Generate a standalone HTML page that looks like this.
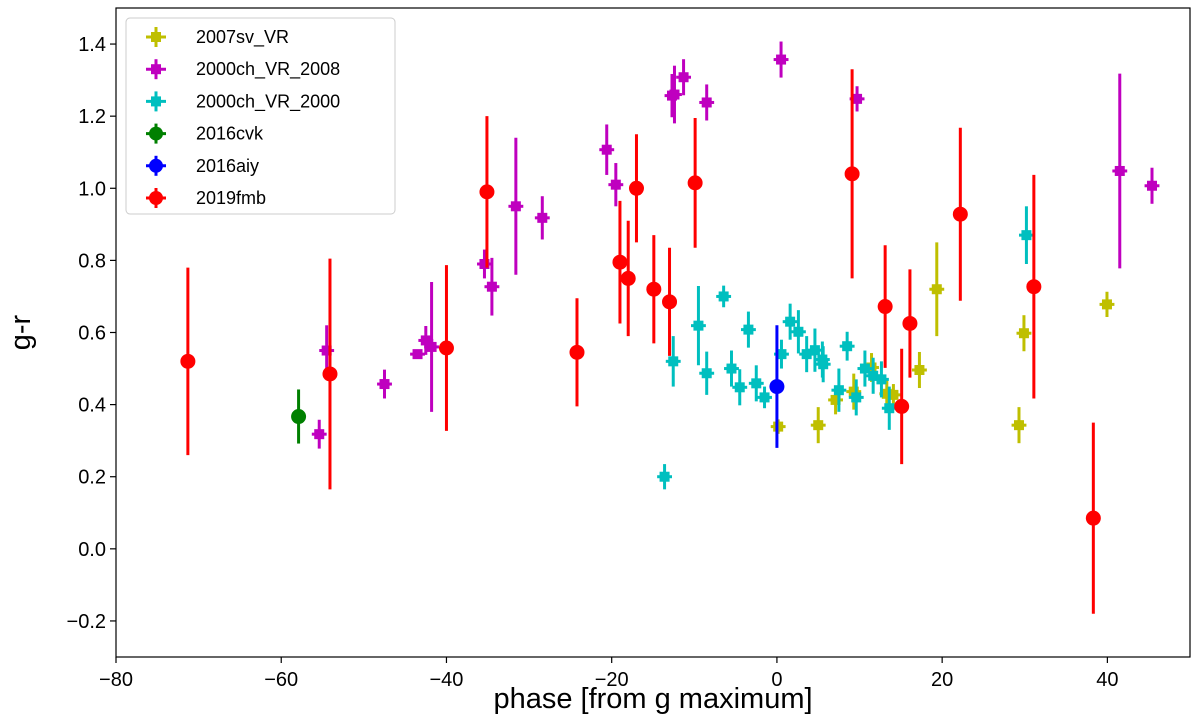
<!DOCTYPE html>
<html><head><meta charset="utf-8"><style>
html,body{margin:0;padding:0;background:#fff;}
svg{display:block;font-family:"Liberation Sans","DejaVu Sans",sans-serif;}
</style></head><body>
<svg id="chart" width="1200" height="720"></svg>
<script>
const xTicks=[-80,-60,-40,-20,0,20,40];
const yTicks=[-0.2,0.0,0.2,0.4,0.6,0.8,1.0,1.2,1.4];
const seriesNames=["2007sv_VR","2000ch_VR_2008","2000ch_VR_2000","2016cvk","2016aiy","2019fmb"];
const seriesColors=["#bfbf00","#bf00bf","#00bfbf","#008000","#0000ff","#ff0000"];
const svX=[0.15,5.0,7.1,9.3,11.45,13.3,14.1,17.25,19.35,29.9,29.3,39.95];
const svY=[0.339,0.343,0.413,0.436,0.503,0.43,0.427,0.496,0.72,0.598,0.343,0.678];
const svE=[0.02,0.05,0.04,0.05,0.04,0.04,0.03,0.05,0.13,0.05,0.05,0.035];
const c08X=[-55.4,-54.5,-47.5,-43.5,-42.5,-41.8,-35.4,-34.5,-31.6,-28.4,-20.6,-19.5,-12.7,-12.4,-11.3,-8.5,0.5,9.7,41.5,45.4];
const c08Y=[0.318,0.55,0.457,0.54,0.578,0.56,0.79,0.727,0.95,0.918,1.107,1.01,1.257,1.26,1.308,1.238,1.357,1.248,1.048,1.007];
const c08E=[0.04,0.07,0.04,0.01,0.04,0.18,0.04,0.08,0.19,0.06,0.07,0.06,0.06,0.08,0.05,0.05,0.05,0.035,0.27,0.05];
const c00X=[-6.45,-9.5,-12.55,-8.5,-13.6,-3.45,-5.5,-4.5,-2.5,-1.5,0.55,1.6,2.6,3.6,4.6,5.5,5.6,8.5,7.5,9.6,10.65,11.65,12.65,13.6,30.2];
const c00Y=[0.70,0.619,0.52,0.487,0.2,0.608,0.5,0.448,0.459,0.42,0.54,0.63,0.602,0.54,0.551,0.525,0.512,0.562,0.44,0.42,0.50,0.48,0.47,0.39,0.87];
const c00E=[0.03,0.11,0.07,0.06,0.035,0.05,0.05,0.05,0.05,0.03,0.04,0.05,0.06,0.05,0.06,0.05,0.05,0.04,0.06,0.05,0.05,0.05,0.05,0.06,0.08];
const cvkX=[-57.9], cvkY=[0.367], cvkE=[0.075];
const aiyX=[0], aiyY=[0.45], aiyE=[0.17];
const fmbX=[-71.3,-54.1,-40,-35.1,-24.2,-19,-18,-17,-14.9,-13,-9.9,9.1,13.1,16.1,15.1,22.2,31.1,38.3];
const fmbY=[0.52,0.485,0.557,0.99,0.545,0.795,0.75,1.0,0.72,0.685,1.015,1.04,0.672,0.625,0.395,0.928,0.727,0.085];
const fmbE=[0.26,0.32,0.23,0.21,0.15,0.17,0.16,0.15,0.15,0.15,0.18,0.29,0.17,0.15,0.16,0.24,0.31,0.265];

const L=116,R=1190,T=8,B=657;
const xs=v=>L+(v+80)/130*(R-L);
const ys=v=>B-(v+0.3)/1.8*(B-T);
const NS="http://www.w3.org/2000/svg";
const svg=document.getElementById('chart');
function mk(tag,attrs,parent){const e=document.createElementNS(NS,tag);for(const k in attrs)e.setAttribute(k,attrs[k]);(parent||svg).appendChild(e);return e;}

const frame=mk('rect',{x:L,y:T,width:R-L,height:B-T,fill:'none',stroke:'#000','stroke-width':1.2});



xTicks.forEach(t=>{
  const g=mk('g',{});
  
  
  mk('line',{x1:xs(t),x2:xs(t),y1:B,y2:B+6,stroke:'#000','stroke-width':1.2},g);
  const tx=mk('text',{x:xs(t),y:B+29,'text-anchor':'middle','font-size':20,fill:'#000'},g);
  tx.textContent=(t<0?'\u2212'+(-t):t);
});
yTicks.forEach(t=>{
  const g=mk('g',{});
  
  
  mk('line',{x1:L-6,x2:L,y1:ys(t),y2:ys(t),stroke:'#000','stroke-width':1.2},g);
  const tx=mk('text',{x:L-10,y:ys(t)+7,'text-anchor':'end','font-size':20,fill:'#000'},g);
  tx.textContent=(t<0?'\u2212'+(-t).toFixed(1):t.toFixed(1));
});
const xl=mk('text',{x:(L+R)/2,y:708,'text-anchor':'middle','font-size':29,fill:'#000'});
xl.textContent='phase [from g maximum]';


const yl=mk('text',{x:30,y:(T+B)/2,'text-anchor':'middle','font-size':29,fill:'#000',transform:`rotate(-90 30 ${(T+B)/2})`});
yl.textContent='g-r';



function drawSeries(idx,X,Y,E,type){
  const col=seriesColors[idx];
  const g=mk('g',{});
  
  
  X.forEach((x,i)=>{
    const cx=xs(x),cy=ys(Y[i]);
    mk('line',{x1:cx,x2:cx,y1:ys(Y[i]+E[i]),y2:ys(Y[i]-E[i]),stroke:col,'stroke-width':3},g);
    if(type==='plus'){
      mk('line',{x1:xs(x-0.9),x2:xs(x+0.9),y1:cy,y2:cy,stroke:col,'stroke-width':3},g);
      mk('rect',{x:cx-5,y:cy-5,width:10,height:10,fill:col},g);
    } else {
      mk('circle',{cx:cx,cy:cy,r:7.5,fill:col},g);
    }
  });
}
drawSeries(0,svX,svY,svE,'plus');
drawSeries(1,c08X,c08Y,c08E,'plus');
drawSeries(2,c00X,c00Y,c00E,'plus');
drawSeries(3,cvkX,cvkY,cvkE,'dot');
drawSeries(4,aiyX,aiyY,aiyE,'dot');
drawSeries(5,fmbX,fmbY,fmbE,'dot');

const lg=mk('g',{});


mk('rect',{x:126,y:18,width:269,height:196,rx:4,fill:'#fff','fill-opacity':0.85,stroke:'#ccc','stroke-width':1},lg);
seriesNames.forEach((n,i)=>{
  const e=mk('g',{},lg);
  
  
  const y=37+i*32.2, cx=156, col=seriesColors[i];
  mk('line',{x1:cx,x2:cx,y1:y-10,y2:y+10,stroke:col,'stroke-width':3},e);
  mk('line',{x1:cx-10,x2:cx+10,y1:y,y2:y,stroke:col,'stroke-width':3},e);
  if(i<3) mk('rect',{x:cx-5,y:y-5,width:10,height:10,fill:col},e);
  else mk('circle',{cx:cx,cy:y,r:7,fill:col},e);
  const t=mk('text',{x:196,y:y+6,'font-size':18,fill:'#000'},e);
  t.textContent=n;
});
</script>
</body></html>
